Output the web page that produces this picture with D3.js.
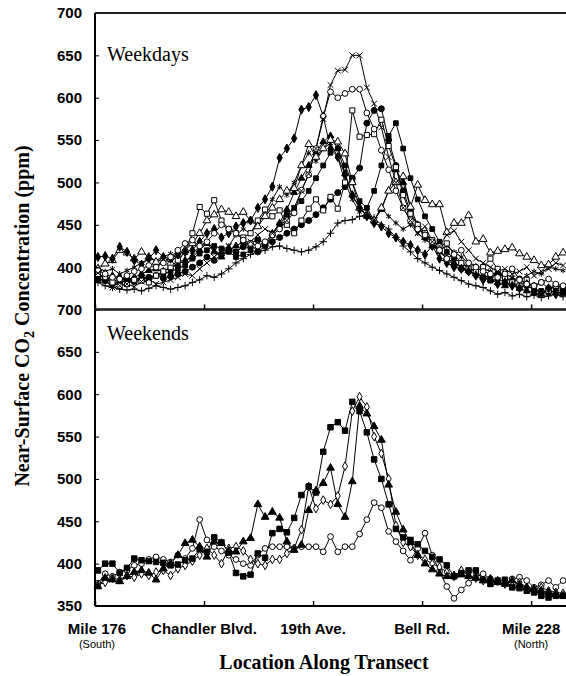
<!DOCTYPE html>
<html>
<head>
<meta charset="utf-8">
<title></title>
<style type="text/css">
    html, body { margin: 0; padding: 0; background: #fff; }
    .tick-label { font-family: "Liberation Sans", Arial, sans-serif; font-weight: bold; font-size: 15px; }
    .serif { font-family: "Liberation Serif", "Times New Roman", serif; }
</style>
</head>
<body>
<svg id="svg" width="566" height="676"></svg>

<script src="https://cdn.jsdelivr.net/npm/d3@7"></script>
<script type="text/javascript">
    // location ticks (sample index along transect)
    var tickIdx = [0, 15, 30, 45, 60];
    var tickLabels = ['Mile 176', 'Chandler Blvd.', '19th Ave.', 'Bell Rd.', 'Mile 228'];
    var tickSub = ['(South)', '', '', '', '(North)'];
    var yTicksTop = [400, 450, 500, 550, 600, 650, 700];
    var yTicksBottom = [350, 400, 450, 500, 550, 600, 650, 700];

    // weekday runs
    var wdCross = [393, 384, 376, 378, 380, 377, 383, 386, 380, 382, 385, 388, 392, 390, 398,
        405, 412, 420, 425, 418, 425, 430, 438, 445, 440, 450, 455, 470, 490, 510,
        540, 575, 615, 632, 633, 650, 650, 612, 593, 565, 530, 500, 470, 455, 440,
        448, 430, 425, 438, 443, 430, 420, 410, 405, 400, 395, 398, 392, 395, 400,
        390, 395, 398, 405, 402];
    var wdCircle = [396, 392, 388, 386, 390, 395, 398, 402, 400, 405, 412, 420, 428, 432, 425,
        430, 440, 450, 445, 440, 432, 428, 425, 430, 438, 445, 455, 464, 491, 509,
        540, 578, 607, 600, 605, 610, 610, 582, 563, 538, 515, 490, 470, 455, 445,
        438, 430, 420, 410, 415, 420, 405, 400, 395, 392, 388, 392, 398, 385, 380,
        378, 382, 386, 380, 378];
    var wdDiamond = [412, 413, 410, 424, 418, 408, 403, 410, 420, 412, 410, 415, 418, 420, 430,
        440, 445, 435, 440, 448, 452, 455, 470, 480, 495, 529, 540, 552, 586, 589,
        603, 578, 540, 530, 510, 485, 470, 460, 452, 448, 440, 435, 430, 426, 420,
        415, 425, 410, 405, 400, 398, 395, 390, 385, 388, 380, 382, 378, 375, 380,
        372, 370, 375, 368, 372];
    var wdTriangle = [398, 404, 408, 420, 417, 410, 418, 412, 406, 410, 405, 415, 420, 428, 440,
        455, 462, 468, 465, 460, 465, 455, 448, 460, 470, 480, 490, 493, 520, 545,
        530, 540, 550, 548, 534, 500, 470, 462, 455, 470, 490, 500, 507, 471, 497,
        479, 474, 474, 441, 452, 452, 461, 430, 433, 417, 419, 421, 423, 416, 412,
        408, 402, 403, 412, 417];
    var wdSquare = [392, 388, 382, 378, 380, 385, 384, 382, 390, 395, 400, 408, 418, 440, 471,
        463, 479, 455, 445, 440, 435, 440, 455, 468, 460, 467, 450, 440, 455, 469,
        480, 467, 483, 469, 500, 585, 554, 556, 557, 574, 543, 518, 485, 463, 450,
        440, 432, 425, 428, 415, 405, 398, 395, 400, 410, 398, 388, 382, 378, 385,
        375, 370, 372, 378, 376];
    var wdDot = [386, 384, 380, 382, 385, 383, 386, 388, 390, 387, 389, 392, 395, 400, 405,
        412, 408, 415, 420, 418, 424, 428, 432, 428, 430, 435, 440, 445, 450, 455,
        462, 470, 480, 488, 495, 505, 517, 570, 585, 587, 550, 520, 490, 465, 448,
        440, 430, 420, 410, 402, 398, 395, 392, 388, 390, 392, 388, 384, 386, 380,
        378, 382, 375, 377, 374];
    var wdBlock = [390, 388, 385, 383, 387, 384, 388, 386, 390, 392, 395, 398, 402, 410, 416,
        420, 425, 422, 418, 412, 415, 420, 418, 425, 438, 450, 462, 470, 478, 490,
        505, 520, 535, 540, 520, 500, 478, 470, 490, 520, 555, 570, 540, 505, 480,
        460, 445, 430, 418, 410, 405, 400, 395, 388, 384, 386, 382, 380, 376, 378,
        374, 372, 370, 373, 371];
    var wdPlus = [382, 378, 376, 374, 373, 374, 372, 375, 378, 376, 374, 376, 378, 382, 385,
        390, 388, 392, 398, 405, 410, 415, 418, 420, 424, 425, 422, 420, 418, 420,
        424, 430, 440, 452, 455, 456, 460, 462, 458, 450, 445, 435, 425, 418, 410,
        405, 400, 396, 392, 388, 384, 380, 378, 376, 372, 368, 370, 366, 368, 365,
        367, 364, 366, 368, 365];
    var wdStar = [400, 395, 398, 392, 396, 400, 405, 410, 408, 412, 416, 410, 405, 415, 425,
        430, 420, 415, 425, 438, 445, 440, 450, 465, 480, 495, 485, 500, 520, 535,
        525, 540, 546, 530, 500, 480, 465, 470, 455, 470, 460, 452, 445, 450, 440,
        432, 428, 420, 425, 418, 412, 405, 402, 398, 395, 390, 392, 388, 384, 390,
        395, 392, 400, 398, 396];
    var wdTri = [384, 386, 390, 388, 385, 388, 392, 396, 398, 395, 400, 403, 408, 412, 420,
        428, 418, 412, 420, 425, 430, 425, 420, 428, 440, 452, 468, 488, 505, 520,
        535, 548, 555, 540, 510, 485, 470, 460, 455, 468, 490, 515, 500, 470, 450,
        435, 425, 418, 410, 405, 400, 396, 392, 388, 385, 382, 378, 380, 375, 372,
        370, 368, 372, 370, 369];

    // weekend runs
    var weSquare = [392, 400, 400, 389, 395, 406, 404, 403, 402, 401, 398, 399, 404, 406, 417,
        414, 431, 425, 413, 389, 385, 387, 412, 407, 436, 441, 437, 454, 481, 491,
        484, 532, 561, 567, 557, 591, 580, 555, 523, 500, 470, 441, 431, 428, 423,
        415, 408, 405, 398, 385, 389, 392, 392, 381, 376, 380, 381, 372, 371, 368,
        366, 362, 360, 362, 362];
    var weTriangle = [373, 383, 381, 379, 385, 390, 392, 389, 381, 394, 400, 410, 424, 428, 420,
        408, 426, 424, 415, 414, 426, 430, 470, 455, 461, 454, 426, 416, 422, 463,
        486, 495, 513, 470, 455, 497, 586, 577, 562, 546, 493, 461, 440, 425, 410,
        400, 393, 388, 385, 386, 387, 385, 383, 380, 382, 378, 376, 380, 375, 372,
        370, 368, 366, 364, 362];
    var weCircle = [377, 388, 385, 390, 392, 398, 400, 405, 408, 405, 402, 410, 406, 418, 452,
        428, 420, 415, 410, 405, 400, 398, 410, 418, 420, 420, 420, 418, 420, 420,
        420, 414, 432, 414, 420, 420, 435, 452, 472, 466, 438, 426, 415, 404, 418,
        436, 410, 391, 373, 359, 369, 377, 385, 388, 382, 378, 376, 382, 384, 380,
        372, 375, 380, 372, 380];
    var weDiamond = [375, 378, 383, 381, 386, 384, 388, 386, 390, 392, 386, 394, 398, 403, 410,
        418, 410, 400, 418, 420, 415, 405, 400, 398, 405, 405, 412, 418, 440, 491,
        465, 475, 470, 480, 515, 580, 597, 585, 550, 530, 500, 445, 425, 420, 410,
        405, 400, 396, 390, 385, 392, 386, 383, 380, 378, 380, 376, 374, 378, 372,
        370, 372, 368, 366, 365];

    var weekdays = [
        {values: wdPlus, sym: d3.symbolPlus, fill: 'none', size: 20},
        {values: wdStar, sym: d3.symbolAsterisk, fill: 'none', size: 22},
        {values: wdBlock, sym: d3.symbolSquare, fill: '#000', size: 22},
        {values: wdTri, sym: d3.symbolTriangle, fill: '#000', size: 20},
        {values: wdDot, sym: d3.symbolCircle, fill: '#000', size: 28},
        {values: wdSquare, sym: d3.symbolSquare, fill: '#fff', size: 26},
        {values: wdTriangle, sym: d3.symbolTriangle, fill: '#fff', size: 26},
        {values: wdDiamond, sym: d3.symbolDiamond, fill: '#000', size: 24},
        {values: wdCircle, sym: d3.symbolCircle, fill: '#fff', size: 26},
        {values: wdCross, sym: d3.symbolTimes, fill: 'none', size: 24}
    ];
    var weekends = [
        {values: weCircle, sym: d3.symbolCircle, fill: '#fff', size: 26},
        {values: weDiamond, sym: d3.symbolDiamond, fill: '#fff', size: 22},
        {values: weTriangle, sym: d3.symbolTriangle, fill: '#000', size: 26},
        {values: weSquare, sym: d3.symbolSquare, fill: '#000', size: 30}
    ];

    var sampleShift = 0.4; // samples sit slightly right of the tick grid
    var svg = d3.select('#svg');
    var x = d3.scaleLinear().domain([0, 64.8]).range([95, 566]);
    var yTop = d3.scaleLinear().domain([350, 700]).range([309.5, 13]);
    var yBot = d3.scaleLinear().domain([350, 700]).range([606, 309.5]);

    drawPanel(yTop, weekdays, yTicksTop, 'Weekdays', 61);
    drawPanel(yBot, weekends, yTicksBottom, 'Weekends', 340);

    function drawPanel(y, series, ticks, title, titleY) {
        var g = svg.append('g');
        var line = d3.line().x((d, i) => x(i + sampleShift)).y((d) => y(d));

        series.forEach(function (s) {
            g.append('path')
                .attr('d', line(s.values))
                .attr('fill', 'none')
                .attr('stroke', '#000')
                .attr('stroke-width', 1);
        });
        series.forEach(function (s) {
            g.selectAll(null)
                .data(s.values)
                .enter()
                .append('path')
                .attr('transform', (d, i) => 'translate(' + x(i + sampleShift) + ',' + y(d) + ')')
                .attr('d', d3.symbol().type(s.sym).size(s.size))
                .attr('fill', s.fill)
                .attr('stroke', '#000')
                .attr('stroke-width', 1);
        });

        // left axis with small inward ticks
        var ya = g.append('g')
            .attr('transform', 'translate(95,0)')
            .call(d3.axisRight(y).tickValues(ticks).tickSize(4).tickFormat(''));
        ya.select('.domain').remove();
        g.selectAll(null)
            .data(ticks)
            .enter()
            .append('text')
            .attr('class', 'tick-label')
            .attr('x', 82)
            .attr('y', (d) => y(d))
            .attr('dy', '0.36em')
            .attr('text-anchor', 'end')
            .text((d) => d);

        // bottom edge with upward ticks
        var xa = g.append('g')
            .attr('transform', 'translate(0,' + y(350) + ')')
            .call(d3.axisTop(x).tickValues(tickIdx).tickSize(5).tickFormat(''));
        xa.select('.domain').remove();
        xa.selectAll('line').attr('stroke-width', 1.5);

        g.append('line')
            .attr('x1', 95).attr('x2', 566)
            .attr('y1', y(350)).attr('y2', y(350))
            .attr('stroke', '#000').attr('stroke-width', 2);
        g.append('line')
            .attr('x1', 95).attr('x2', 566)
            .attr('y1', y(700)).attr('y2', y(700))
            .attr('stroke', '#222').attr('stroke-width', 2);
        g.append('line')
            .attr('x1', 95).attr('x2', 95)
            .attr('y1', y(700)).attr('y2', y(350))
            .attr('stroke', '#000').attr('stroke-width', 2);

        g.append('text')
            .attr('class', 'serif')
            .attr('x', 107)
            .attr('y', titleY)
            .attr('font-size', 20)
            .text(title);
    }

    // location labels
    svg.selectAll('.xlab')
        .data(tickLabels)
        .enter()
        .append('text')
        .attr('class', 'tick-label xlab')
        .attr('x', (d, i) => x(tickIdx[i]) + (i == 0 ? 2 : 0))
        .attr('y', 634)
        .attr('text-anchor', 'middle')
        .text((d) => d);
    svg.selectAll('.xsub')
        .data(tickSub)
        .enter()
        .append('text')
        .attr('class', 'xsub')
        .attr('x', (d, i) => x(tickIdx[i]) + (i == 0 ? 2 : 0))
        .attr('y', 648)
        .attr('text-anchor', 'middle')
        .attr('font-family', '"Liberation Sans", Arial, sans-serif')
        .attr('font-size', 11)
        .text((d) => d);

    svg.append('text')
        .attr('class', 'serif')
        .attr('x', 324)
        .attr('y', 669)
        .attr('text-anchor', 'middle')
        .attr('font-size', 20)
        .attr('font-weight', 'bold')
        .text('Location Along Transect');

    var yt = svg.append('text')
        .attr('class', 'serif')
        .attr('transform', 'translate(29,316) rotate(-90)')
        .attr('text-anchor', 'middle')
        .attr('font-size', 20)
        .attr('font-weight', 'bold');
    yt.append('tspan').text('Near-Surface CO');
    yt.append('tspan').attr('dy', 5).attr('font-size', 14).text('2');
    yt.append('tspan').attr('dy', -5).text(' Concentration (ppm)');
</script>
</body>
</html>
